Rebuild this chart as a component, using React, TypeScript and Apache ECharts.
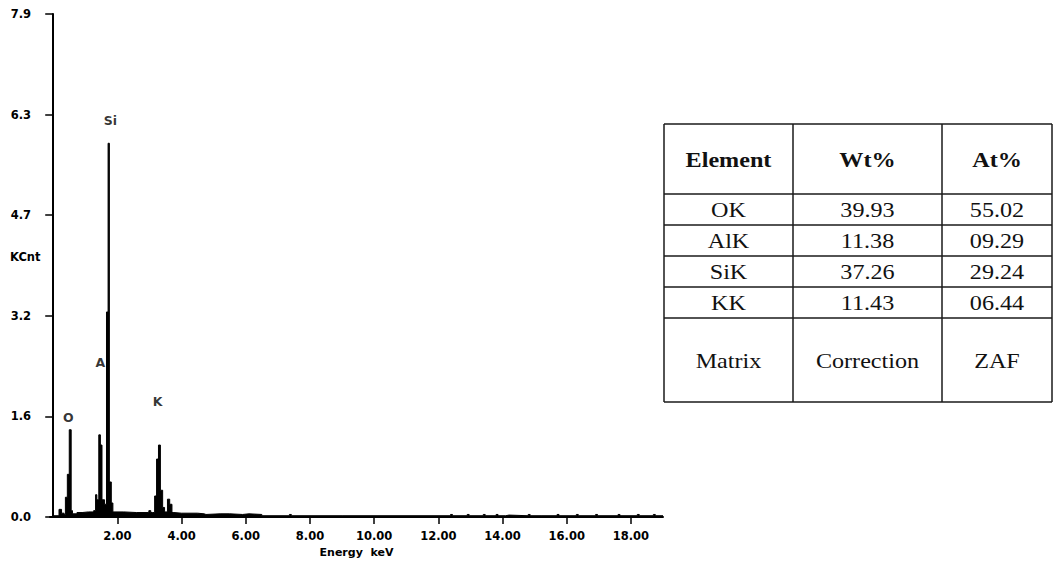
import React, { useEffect, useRef } from "react";
import * as echarts from "echarts";

// Spectrum (energy in keV, counts in KCnt), step-held values
const energies = [
  0.0, 0.18, 0.26, 0.34, 0.38, 0.44, 0.5, 0.56, 0.6, 0.74, 0.9, 1.1, 1.26, 1.32,
  1.36, 1.42, 1.47, 1.52, 1.6, 1.66, 1.71, 1.75, 1.81, 1.86, 2.2, 2.6, 2.98, 3.04,
  3.1, 3.16, 3.22, 3.28, 3.34, 3.41, 3.47, 3.56, 3.63, 3.7, 3.76, 4.0, 4.5, 4.7,
  4.76, 5.2, 5.5, 5.9, 6.1, 6.5, 7.36, 7.42, 9.0, 12.38, 12.44, 12.9, 12.96, 13.4,
  13.46, 13.8, 13.86, 14.1, 14.2, 14.8, 14.86, 15.2, 15.7, 15.76, 16.3, 16.36,
  16.9, 16.96, 17.6, 17.66, 18.2, 18.26, 18.7, 18.76, 19.0,
];
const counts = [
  0.02, 0.12, 0.06, 0.04, 0.31, 0.67, 1.37, 0.1, 0.05, 0.07, 0.08, 0.08, 0.1, 0.35,
  0.27, 1.29, 1.13, 0.27, 0.2, 3.22, 5.87, 0.55, 0.22, 0.08, 0.07, 0.07, 0.1, 0.07,
  0.07, 0.33, 0.91, 1.13, 0.42, 0.15, 0.08, 0.28, 0.2, 0.07, 0.06, 0.06, 0.05, 0.04,
  0.05, 0.05, 0.04, 0.05, 0.04, 0.02, 0.04, 0.02, 0.02, 0.04, 0.02, 0.04, 0.02, 0.04,
  0.02, 0.04, 0.02, 0.03, 0.02, 0.04, 0.02, 0.02, 0.04, 0.02, 0.04, 0.02, 0.04, 0.02,
  0.04, 0.02, 0.04, 0.02, 0.04, 0.02, 0.02,
];

// Peak labels
const peakNames = ["O", "A", "Si", "K"];
const peakEnergy = [0.47, 1.47, 1.78, 3.25];
const peakLabelY = [1.57, 2.43, 6.22, 1.82];

// Axis ticks
const xTicks = [2, 4, 6, 8, 10, 12, 14, 16, 18];
const yTickStep = 1.58;
const yMax = 7.9;

// Table
const tableHeader = ["Element", "Wt%", "At%"];
const tableElements = ["OK", "AlK", "SiK", "KK"];
const tableWt = ["39.93", "11.38", "37.26", "11.43"];
const tableAt = ["55.02", "09.29", "29.24", "06.44"];
const tableFooter = ["Matrix", "Correction", "ZAF"];

const colX = [664, 793, 942, 1052];
const rowY = [124, 194, 225, 256, 287, 318, 402];

function buildTable(): any[] {
  const els: any[] = [];
  const stroke = { stroke: "#1a1a1a", lineWidth: 1.5 };
  rowY.forEach((y) => {
    els.push({ type: "line", shape: { x1: colX[0], y1: y, x2: colX[3], y2: y }, style: stroke });
  });
  colX.forEach((x) => {
    els.push({ type: "line", shape: { x1: x, y1: rowY[0], x2: x, y2: rowY[6] }, style: stroke });
  });
  const rows: string[][] = [
    tableHeader,
    ...tableElements.map((e, i) => [e, tableWt[i], tableAt[i]]),
    tableFooter,
  ];
  rows.forEach((row, r) => {
    const cy = (rowY[r] + rowY[r + 1]) / 2 + 1;
    row.forEach((t, c) => {
      const cx = (colX[c] + colX[c + 1]) / 2;
      els.push({
        type: "text",
        x: cx,
        y: cy,
        scaleX: 1.15,
        style: {
          text: t,
          x: 0,
          y: 0,
          align: "center",
          verticalAlign: "middle",
          fontFamily: "'Liberation Serif', 'Times New Roman', serif",
          fontSize: 21,
          fontWeight: r === 0 ? "bold" : "normal",
          fill: "#111",
        },
      });
    });
  });
  return els;
}

export default function App() {
  const ref = useRef<HTMLDivElement>(null);
  useEffect(() => {
    if (!ref.current) return;
    const chart = echarts.init(ref.current, null, { renderer: "svg" });
    const axisFont = {
      fontFamily: "'DejaVu Sans', sans-serif",
      fontWeight: "bold",
      fontSize: 11.5,
      color: "#000",
    };
    chart.setOption({
      animation: false,
      backgroundColor: "#ffffff",
      grid: { left: 50, top: 14, right: 391, bottom: 47, containLabel: false },
      xAxis: {
        type: "value",
        min: -0.1,
        max: 19.0,
        name: "Energy  keV",
        nameLocation: "middle",
        nameGap: 30,
        nameTextStyle: { ...axisFont, fontSize: 11 },
        axisLine: { show: true, onZero: false, lineStyle: { color: "#000", width: 2 } },
        axisTick: {
          show: true,
          length: 7,
          customValues: xTicks,
          lineStyle: { color: "#000", width: 1.5 },
        },
        axisLabel: {
          ...axisFont,
          margin: 13,
          customValues: xTicks,
          formatter: (v: number) => v.toFixed(2),
        },
        splitLine: { show: false },
      },
      yAxis: {
        type: "value",
        min: 0,
        max: yMax,
        interval: yTickStep,
        axisLine: { show: true, lineStyle: { color: "#000", width: 2 } },
        axisTick: { show: true, length: 8, lineStyle: { color: "#000", width: 1.5 } },
        axisLabel: {
          ...axisFont,
          margin: 19,
          formatter: (v: number) => v.toFixed(1),
        },
        splitLine: { show: false },
      },
      graphic: [
        {
          type: "text",
          left: 10,
          top: 251,
          style: {
            text: "KCnt",
            fontFamily: "'DejaVu Sans', sans-serif",
            fontWeight: "bold",
            fontSize: 11.5,
            fill: "#000",
          },
        },
        ...buildTable(),
      ],
      series: [
        {
          type: "line",
          step: "end",
          symbol: "none",
          data: energies.map((e, i) => [e, counts[i]]),
          lineStyle: { color: "#000", width: 1 },
          areaStyle: { color: "#000", opacity: 1 },
          z: 3,
        },
        {
          type: "scatter",
          symbolSize: 1,
          itemStyle: { color: "rgba(0,0,0,0)" },
          data: peakNames.map((n, i) => ({ name: n, value: [peakEnergy[i], peakLabelY[i]] })),
          label: {
            show: true,
            position: "inside",
            formatter: (p: any) => p.name,
            fontFamily: "'DejaVu Sans', sans-serif",
            fontWeight: "bold",
            fontSize: 12.5,
            color: "#000",
            textBorderWidth: 0,
            textBorderColor: "transparent",
            textShadowBlur: 0,
          },
          z: 4,
        },
      ],
    });
    return () => chart.dispose();
  }, []);
  return (
    <div
      ref={ref}
      style={{ position: "fixed", left: 0, top: 0, width: 1054, height: 564, background: "#fff" }}
    />
  );
}
